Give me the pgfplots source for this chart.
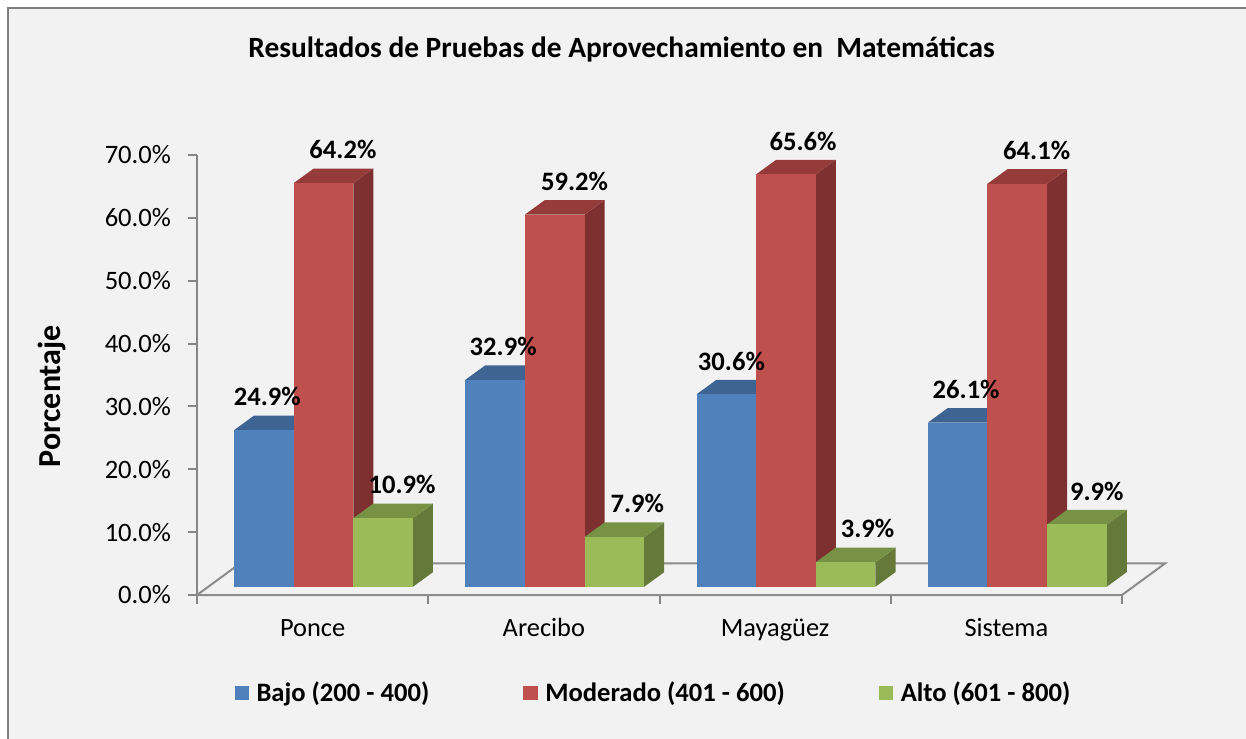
\documentclass[border=0pt]{standalone}
\usepackage{pgfplots}
\pgfplotsset{compat=1.18}
\usepackage{fontspec}
\setmainfont{Carlito}
\definecolor{bgc}{HTML}{F2F2F2}
\definecolor{framegray}{HTML}{7F7F7F}
\definecolor{axisgray}{HTML}{868686}
\definecolor{floorgray}{HTML}{8C8C8C}
\definecolor{bfront}{HTML}{4F81BD}
\definecolor{bside}{HTML}{33547B}
\definecolor{btop}{HTML}{3D6493}
\definecolor{rfront}{HTML}{C0504D}
\definecolor{rside}{HTML}{7E3031}
\definecolor{rtop}{HTML}{953B39}
\definecolor{gfront}{HTML}{9BBB59}
\definecolor{gside}{HTML}{657A3A}
\definecolor{gtop}{HTML}{789245}
% #1 left edge, #2 value, #3 front, #4 side, #5 top, #6 label x offset
\newcommand\bardd[6]{%
  \pgfmathsetmacro\xl{#1}%
  \pgfmathsetmacro\xr{#1+0.258}%
  \pgfmathsetmacro\xrr{#1+0.258+0.0865}%
  \pgfmathsetmacro\xll{#1+0.0865}%
  \pgfmathsetmacro\xc{#1+0.129+#6}%
  \pgfmathsetmacro\yt{#2+1.32}%
  \pgfmathsetmacro\ytt{#2+1.32+2.32}%
  \addplot[fill=#4, draw=none, forget plot] coordinates {(\xr,1.32) (\xrr,3.64) (\xrr,\ytt) (\xr,\yt)};
  \addplot[fill=#5, draw=none, forget plot] coordinates {(\xl,\yt) (\xll,\ytt) (\xrr,\ytt) (\xr,\yt)};
  \addplot[fill=#3, draw=none, forget plot] coordinates {(\xl,1.32) (\xr,1.32) (\xr,\yt) (\xl,\yt)};
  \addplot[draw=none, forget plot, point meta=explicit symbolic,
    nodes near coords={\pgfplotspointmeta\%}] coordinates {(\xc,\ytt) [#2]};
}
\begin{document}
\begin{tikzpicture}
\fill[white] (0,0) rectangle (623pt,369pt);
\path[fill=bgc, draw=framegray, line width=1pt] (4pt,-10pt) rectangle (640pt,365pt);
\begin{axis}[
  at={(98.5pt,71.5pt)}, anchor=south west,
  scale only axis, width=462.5pt, height=220pt,
  xmin=0, xmax=4, ymin=0, ymax=70,
  clip=false,
  axis lines=left,
  axis line style={draw=axisgray, line width=1pt, -},
  /pgf/number format/assume math mode=true,
  xtick={0,1,2,3,4},
  xticklabels={Ponce,Arecibo,Mayagüez,Sistema,{}},
  xticklabel style={xshift=57.8pt, anchor=base, yshift=-16.3pt, font=\fontsize{13.2}{15}\selectfont},
  ytick={0,10,...,70},
  yticklabel={\pgfmathprintnumber[fixed,fixed zerofill,precision=1]{\tick}\%},
  yticklabel style={xshift=-5pt, font=\fontsize{13.3}{15}\selectfont},
  tick align=outside,
  major tick length=4.5pt,
  tick style={draw=axisgray, line width=1pt},
  title={Resultados de Pruebas de Aprovechamiento en\ \ Matemáticas},
  title style={at={(axis description cs:0.459,1.212)}, anchor=center, font=\bfseries\fontsize{14.7}{17}\selectfont},
  ylabel={Porcentaje},
  ylabel style={at={(axis description cs:-0.1568,0.452)}, anchor=center, font=\bfseries\fontsize{16}{19}\selectfont},
  every node near coord/.append style={font=\bfseries\fontsize{13.3}{15}\selectfont, text=black, anchor=south, inner sep=0pt, yshift=4.5pt},
  legend style={at={(axis description cs:0.4945,-0.2227)}, anchor=center, draw=none, fill=none,
    font=\bfseries\fontsize{13.3}{15}\selectfont,
    /tikz/every even column/.append style={column sep=45pt}},
  legend columns=3,
  legend image code/.code={\fill[#1, draw=none] (0pt,-3.7pt) rectangle (7.2pt,3.7pt); \path[draw=none, fill=none] (0pt,0pt) -- (9pt,0pt);},
]
% floor
\addplot[fill=bgc, draw=floorgray, line width=1pt, forget plot] coordinates {(0,0) (4,0) (4.187,5.04) (0.187,5.04) (0,0)};
% Ponce
\bardd{0.160}{24.9}{bfront}{bside}{btop}{0.015}
\bardd{0.418}{64.2}{rfront}{rside}{rtop}{0.084}
\bardd{0.676}{10.9}{gfront}{gside}{gtop}{0.082}
% Arecibo
\bardd{1.160}{32.9}{bfront}{bside}{btop}{0.035}
\bardd{1.418}{59.2}{rfront}{rside}{rtop}{0.086}
\bardd{1.676}{7.9}{gfront}{gside}{gtop}{0.099}
% Mayaguez
\bardd{2.160}{30.6}{bfront}{bside}{btop}{0.022}
\bardd{2.418}{65.6}{rfront}{rside}{rtop}{0.074}
\bardd{2.676}{3.9}{gfront}{gside}{gtop}{0.095}
% Sistema
\bardd{3.160}{26.1}{bfront}{bside}{btop}{0.037}
\bardd{3.418}{64.1}{rfront}{rside}{rtop}{0.084}
\bardd{3.676}{9.9}{gfront}{gside}{gtop}{0.086}
\addlegendimage{fill=bfront}\addlegendentry{Bajo (200 - 400)}
\addlegendimage{fill=rfront}\addlegendentry{Moderado (401 - 600)}
\addlegendimage{fill=gfront}\addlegendentry{Alto (601 - 800)}
\end{axis}
\pgfresetboundingbox
\path[use as bounding box] (0,0) rectangle (623pt,369pt);
\end{tikzpicture}
\end{document}
